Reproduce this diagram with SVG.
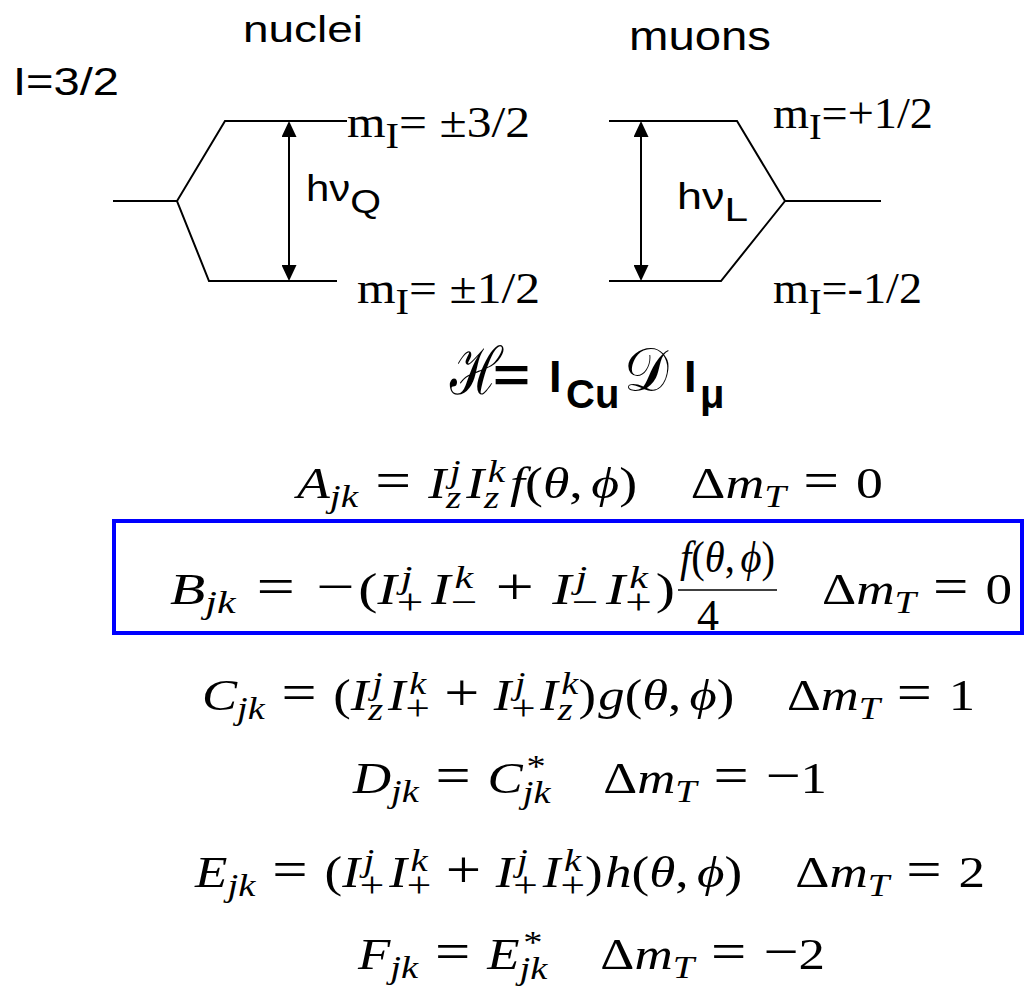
<svg xmlns="http://www.w3.org/2000/svg" width="1025" height="987" viewBox="0 0 1025 987">
<style>
.lv{stroke:#000;stroke-width:2;fill:none}
.arr{stroke:#000;stroke-width:2;fill:none;marker-start:url(#ah);marker-end:url(#ah)}
.sans{font-family:"Liberation Sans",Arial,sans-serif;fill:#000}
.sb{font-family:"Liberation Sans",Arial,sans-serif;font-weight:bold;fill:#000}
.ser{font-family:"Liberation Serif","Times New Roman",serif;fill:#000}
.scr{font-family:"DejaVu Serif",serif;fill:#000}
.eq{font-family:"Liberation Serif","Times New Roman",serif;font-size:44px;fill:#000}
.i{font-style:italic}
.s{font-size:32px}
.s2{font-size:36px}
.op{font-size:52px}
.bar{stroke:#000;stroke-width:1.6}
.box{fill:none;stroke:#0000ff;stroke-width:4}
</style>
<defs>
<marker id="ah" viewBox="0 0 16 15" refX="14" refY="7.5" markerWidth="16" markerHeight="15" markerUnits="userSpaceOnUse" orient="auto-start-reverse"><path d="M0,0 L16,7.5 L0,15 z" fill="#000"/></marker>
</defs>
<rect width="1025" height="987" fill="#fff"/>

<g id="titles">
<text class="sans" x="243" y="42" font-size="37" textLength="120" lengthAdjust="spacingAndGlyphs">nuclei</text>
<text class="sans" x="629" y="50" font-size="40" textLength="142" lengthAdjust="spacingAndGlyphs">muons</text>
<text class="sans" x="13" y="95" font-size="39" textLength="106" lengthAdjust="spacingAndGlyphs">I=3/2</text>
</g>

<g id="nuclei-levels">
<path class="lv" d="M347,121 L225,121 L177,201 L209,281 L337,281 M113,201 L177,201"/>
<text class="ser" x="347" y="137" font-size="44" textLength="183" lengthAdjust="spacingAndGlyphs">m<tspan font-size="36" dy="11">I</tspan><tspan dy="-11">= ±3/2</tspan></text>
<text class="ser" x="357" y="303" font-size="44" textLength="183" lengthAdjust="spacingAndGlyphs">m<tspan font-size="36" dy="11">I</tspan><tspan dy="-11">= ±1/2</tspan></text>
<text class="sans" x="306" y="201" font-size="36" textLength="75" lengthAdjust="spacingAndGlyphs">hν<tspan font-size="34" dy="12">Q</tspan></text>
</g>

<g id="muon-levels">
<path class="lv" d="M609,121 L737,121 L785,201 L721,281 L609,281 M785,201 L881,201"/>
<text class="ser" x="773" y="128" font-size="44" textLength="160" lengthAdjust="spacingAndGlyphs">m<tspan font-size="36" dy="11">I</tspan><tspan dy="-11">=+1/2</tspan></text>
<text class="ser" x="773" y="303" font-size="44" textLength="149" lengthAdjust="spacingAndGlyphs">m<tspan font-size="36" dy="11">I</tspan><tspan dy="-11">=-1/2</tspan></text>
<text class="sans" x="677" y="209" font-size="36" textLength="71" lengthAdjust="spacingAndGlyphs">hν<tspan font-size="34" dy="12">L</tspan></text>
</g>

<g id="connectors">
<line class="arr" x1="289" y1="123" x2="289" y2="279"/>
<line class="arr" x1="641" y1="123" x2="641" y2="279"/>
</g>

<g id="hamiltonian">
<text class="scr" transform="translate(450,394) scale(0.75,1)" font-size="66">ℋ</text>
<text class="sb" x="493" y="392" font-size="48" textLength="37" lengthAdjust="spacingAndGlyphs">=</text>
<text class="sb" x="549" y="392" font-size="45">I</text>
<text class="sb" x="566" y="408" font-size="40">Cu</text>
<text class="scr" transform="translate(624,391) scale(0.9,1)" font-size="62">𝒟</text>
<text class="sb" x="684" y="392" font-size="45">I</text>
<text class="sb" x="700" y="408" font-size="40">μ</text>
</g>

<g id="eq-A">
<text class="eq" x="297" y="498" textLength="586" lengthAdjust="spacingAndGlyphs"><tspan class="i">A</tspan><tspan class="s i" dy="9">jk</tspan><tspan class="op" dx="14" dy="-9">=</tspan><tspan class="i" dx="14">I</tspan><tspan class="s i" dx="3" dy="-16">j</tspan><tspan class="s i" dx="-11.9" dy="26">z</tspan><tspan class="i" dx="4" dy="-10">I</tspan><tspan class="s i" dx="3" dy="-16">k</tspan><tspan class="s i" dx="-17.2" dy="26">z</tspan><tspan class="i" dx="8.8" dy="-10">f</tspan><tspan>(</tspan><tspan class="i">θ</tspan><tspan>,</tspan><tspan class="i" dx="7">ϕ</tspan><tspan>)</tspan><tspan dx="44">Δ</tspan><tspan class="i">m</tspan><tspan class="s i" dy="9">T</tspan><tspan class="op" dx="14" dy="-9">=</tspan><tspan dx="14">0</tspan></text>
</g>

<g id="eq-B">
<rect class="box" x="114" y="521" width="908" height="112"/>
<text class="eq" x="170" y="604" textLength="505" lengthAdjust="spacingAndGlyphs"><tspan class="i">B</tspan><tspan class="s i" dy="9">jk</tspan><tspan class="op" dx="16" dy="-9">=</tspan><tspan class="op" dx="16">−</tspan><tspan dx="3">(</tspan><tspan class="i">I</tspan><tspan class="s i" dx="3" dy="-16">j</tspan><tspan class="s2" dx="-11.9" dy="26">+</tspan><tspan class="i" dx="6" dy="-10">I</tspan><tspan class="s i" dx="3" dy="-16">k</tspan><tspan class="s2" dx="-17.2" dy="26">−</tspan><tspan class="op" dx="14" dy="-10">+</tspan><tspan class="i" dx="14">I</tspan><tspan class="s i" dx="3" dy="-16">j</tspan><tspan class="s2" dx="-11.9" dy="26">−</tspan><tspan class="i" dx="6" dy="-10">I</tspan><tspan class="s i" dx="3" dy="-16">k</tspan><tspan class="s2" dx="-17.2" dy="26">+</tspan><tspan dx="3" dy="-10">)</tspan></text>
<text class="eq" x="680" y="572" font-size="36" textLength="95" lengthAdjust="spacingAndGlyphs"><tspan class="i">f</tspan><tspan>(</tspan><tspan class="i">θ</tspan><tspan>,</tspan><tspan class="i" dx="6">ϕ</tspan><tspan>)</tspan></text>
<line class="bar" x1="678" y1="590" x2="777" y2="590"/>
<text class="eq" x="708" y="630" font-size="32" text-anchor="middle">4</text>
<text class="eq" x="822" y="604" textLength="190" lengthAdjust="spacingAndGlyphs"><tspan>Δ</tspan><tspan class="i">m</tspan><tspan class="s i" dy="9">T</tspan><tspan class="op" dx="14" dy="-9">=</tspan><tspan dx="14">0</tspan></text>
</g>

<g id="eq-C">
<text class="eq" x="202" y="710" textLength="773" lengthAdjust="spacingAndGlyphs"><tspan class="i">C</tspan><tspan class="s i" dy="9">jk</tspan><tspan class="op" dx="14" dy="-9">=</tspan><tspan dx="14">(</tspan><tspan class="i">I</tspan><tspan class="s i" dx="3" dy="-16">j</tspan><tspan class="s i" dx="-11.9" dy="26">z</tspan><tspan class="i" dx="4" dy="-10">I</tspan><tspan class="s i" dx="3" dy="-16">k</tspan><tspan class="s2" dx="-17.2" dy="26">+</tspan><tspan class="op" dx="12" dy="-10">+</tspan><tspan class="i" dx="12">I</tspan><tspan class="s i" dx="3" dy="-16">j</tspan><tspan class="s2" dx="-11.9" dy="26">+</tspan><tspan class="i" dx="4" dy="-10">I</tspan><tspan class="s i" dx="3" dy="-16">k</tspan><tspan class="s i" dx="-17.2" dy="26">z</tspan><tspan dx="4.8" dy="-10">)</tspan><tspan class="i" dx="2">g</tspan><tspan>(</tspan><tspan class="i">θ</tspan><tspan>,</tspan><tspan class="i" dx="7">ϕ</tspan><tspan>)</tspan><tspan dx="44">Δ</tspan><tspan class="i">m</tspan><tspan class="s i" dy="9">T</tspan><tspan class="op" dx="14" dy="-9">=</tspan><tspan dx="14">1</tspan></text>
</g>

<g id="eq-D">
<text class="eq" x="353" y="793" textLength="474" lengthAdjust="spacingAndGlyphs"><tspan class="i">D</tspan><tspan class="s i" dy="9">jk</tspan><tspan class="op" dx="14" dy="-9">=</tspan><tspan class="i" dx="14">C</tspan><tspan class="s" dx="3" dy="-16">*</tspan><tspan class="s i" dx="-19" dy="26">jk</tspan><tspan dx="44" dy="-10">Δ</tspan><tspan class="i">m</tspan><tspan class="s i" dy="9">T</tspan><tspan class="op" dx="14" dy="-9">=</tspan><tspan class="op" dx="14">−</tspan><tspan>1</tspan></text>
</g>

<g id="eq-E">
<text class="eq" x="195" y="887" textLength="790" lengthAdjust="spacingAndGlyphs"><tspan class="i">E</tspan><tspan class="s i" dy="9">jk</tspan><tspan class="op" dx="14" dy="-9">=</tspan><tspan dx="14">(</tspan><tspan class="i">I</tspan><tspan class="s i" dx="3" dy="-16">j</tspan><tspan class="s2" dx="-11.9" dy="26">+</tspan><tspan class="i" dx="4" dy="-10">I</tspan><tspan class="s i" dx="3" dy="-16">k</tspan><tspan class="s2" dx="-17.2" dy="26">+</tspan><tspan class="op" dx="12" dy="-10">+</tspan><tspan class="i" dx="12">I</tspan><tspan class="s i" dx="3" dy="-16">j</tspan><tspan class="s2" dx="-11.9" dy="26">+</tspan><tspan class="i" dx="4" dy="-10">I</tspan><tspan class="s i" dx="3" dy="-16">k</tspan><tspan class="s2" dx="-17.2" dy="26">+</tspan><tspan dy="-10">)</tspan><tspan class="i" dx="2">h</tspan><tspan>(</tspan><tspan class="i">θ</tspan><tspan>,</tspan><tspan class="i" dx="7">ϕ</tspan><tspan>)</tspan><tspan dx="44">Δ</tspan><tspan class="i">m</tspan><tspan class="s i" dy="9">T</tspan><tspan class="op" dx="14" dy="-9">=</tspan><tspan dx="14">2</tspan></text>
</g>

<g id="eq-F">
<text class="eq" x="358" y="969" textLength="467" lengthAdjust="spacingAndGlyphs"><tspan class="i">F</tspan><tspan class="s i" dy="9">jk</tspan><tspan class="op" dx="14" dy="-9">=</tspan><tspan class="i" dx="14">E</tspan><tspan class="s" dx="3" dy="-16">*</tspan><tspan class="s i" dx="-19" dy="26">jk</tspan><tspan dx="44" dy="-10">Δ</tspan><tspan class="i">m</tspan><tspan class="s i" dy="9">T</tspan><tspan class="op" dx="14" dy="-9">=</tspan><tspan class="op" dx="14">−</tspan><tspan>2</tspan></text>
</g>
</svg>
